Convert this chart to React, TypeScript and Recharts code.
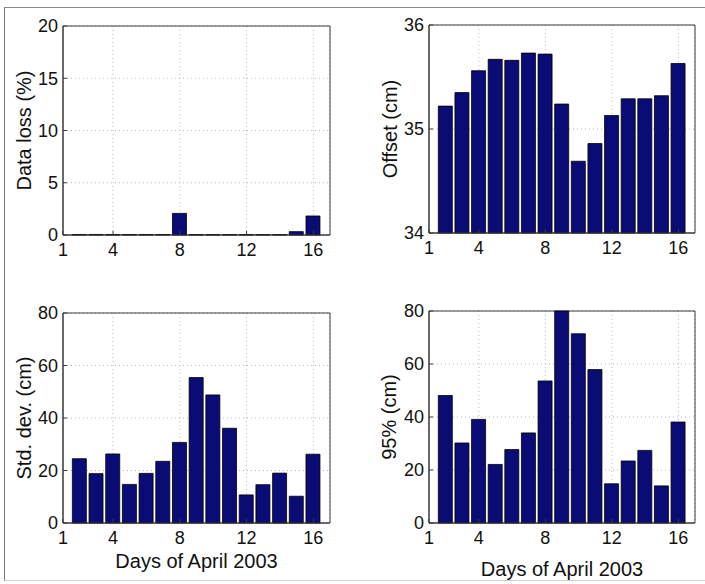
import { BarChart, Bar, XAxis, YAxis, CartesianGrid, ReferenceArea } from 'recharts';

const FONT = "'Liberation Sans', Arial, Helvetica, sans-serif";
const BAR_FILL = '#0b0b76';
const AXIS = '#3a3a3a';

// April 2003, one bar per day
const days = [2, 3, 4, 5, 6, 7, 8, 9, 10, 11, 12, 13, 14, 15, 16];
const dayTicks = [1, 4, 8, 12, 16];

const dataLoss = [0.05, 0.05, 0.05, 0.05, 0.05, 0.05, 2.07, 0.04, 0.04, 0.04, 0.04, 0.04, 0.04, 0.32, 1.82];
const offsetCm = [35.22, 35.35, 35.56, 35.67, 35.66, 35.73, 35.72, 35.24, 34.69, 34.86, 35.13, 35.29, 35.29, 35.32, 35.63];
const stdDevCm = [24.5, 18.8, 26.3, 14.7, 18.9, 23.5, 30.7, 55.4, 48.8, 36.1, 10.7, 14.6, 19.0, 10.2, 26.2];
const p95Cm = [48.1, 30.2, 39.1, 22.1, 27.7, 34.0, 53.6, 80.0, 71.4, 57.9, 14.8, 23.4, 27.4, 14.0, 38.1];

const lossTicks = [0, 5, 10, 15, 20];
const offsetTicks = [34, 35, 36];
const cmTicks = [0, 20, 40, 60, 80];

const rows = days.map((day, i) => ({
  day,
  loss: dataLoss[i],
  offset: offsetCm[i],
  std: stdDevCm[i],
  p95: p95Cm[i],
}));

type PanelProps = {
  dataKey: string;
  yTicks: number[];
  yLabel: string;
  xLabel?: string;
  left: number;
  top: number;
  width: number;
  height: number;
  margin: { top: number; right: number; bottom: number; left: number };
  yAxisWidth: number;
  yLabelX: number;
  xLabelY?: number;
};

const tickStyle = { fill: '#111', fontSize: 18, fontFamily: FONT };

const Panel = (p: PanelProps) => {
  const yMin = p.yTicks[0];
  const yMax = p.yTicks[p.yTicks.length - 1];
  return (
    <div style={{ position: 'absolute', left: p.left, top: p.top }}>
      <BarChart width={p.width} height={p.height} data={rows} margin={p.margin}>
        <CartesianGrid stroke="#b8b8b8" strokeDasharray="1 3" />
        {/* negative tick size puts the tick marks inside the box */}
        <XAxis
          dataKey="day"
          type="number"
          domain={[1, 17]}
          ticks={dayTicks}
          interval={0}
          tick={tickStyle}
          tickLine={{ stroke: AXIS }}
          tickSize={-4}
          tickMargin={12}
          axisLine={{ stroke: AXIS }}
          height={40}
          label={
            p.xLabel
              ? { value: p.xLabel, position: 'insideTop', offset: p.xLabelY, fill: '#111', fontSize: 20, fontFamily: FONT }
              : undefined
          }
        />
        <YAxis
          type="number"
          domain={[yMin, yMax]}
          ticks={p.yTicks}
          interval={0}
          tick={tickStyle}
          tickLine={{ stroke: AXIS }}
          tickSize={-4}
          tickMargin={9}
          axisLine={{ stroke: AXIS }}
          width={p.yAxisWidth}
          label={{
            value: p.yLabel,
            angle: -90,
            position: 'insideLeft',
            offset: p.yLabelX,
            fill: '#111',
            fontSize: 20,
            fontFamily: FONT,
            style: { textAnchor: 'middle' },
          }}
        />
        <Bar dataKey={p.dataKey} fill={BAR_FILL} stroke="#000" strokeWidth={0.8} barSize={14} isAnimationActive={false} />
        {/* closed box around the axes */}
        <ReferenceArea x1={1} x2={17} y1={yMin} y2={yMax} fill="none" stroke={AXIS} strokeOpacity={1} />
      </BarChart>
    </div>
  );
};

const App = () => (
  <div
    style={{
      position: 'absolute',
      left: 0,
      top: 0,
      width: 705,
      height: 584,
      overflow: 'hidden',
      background: '#fff',
      fontFamily: FONT,
    }}
  >
    {/* figure frame */}
    <div
      style={{
        position: 'absolute',
        left: 4,
        top: 7,
        width: 720,
        height: 572,
        borderLeft: '1.5px solid #7a7a7a',
        borderTop: '1.5px solid #8a8a8a',
        borderBottom: '1px solid #d0d0d0',
      }}
    />
    <Panel
      dataKey="loss"
      yTicks={lossTicks}
      yLabel="Data loss (%)"
      left={0}
      top={0}
      width={352}
      height={290}
      margin={{ top: 26, right: 22, bottom: 15, left: 0 }}
      yAxisWidth={63}
      yLabelX={24}
    />
    <Panel
      dataKey="offset"
      yTicks={offsetTicks}
      yLabel="Offset (cm)"
      left={352}
      top={0}
      width={353}
      height={290}
      margin={{ top: 25, right: 10, bottom: 17, left: 0 }}
      yAxisWidth={77}
      yLabelX={38}
    />
    <Panel
      dataKey="std"
      yTicks={cmTicks}
      yLabel="Std. dev. (cm)"
      xLabel="Days of April 2003"
      left={0}
      top={290}
      width={352}
      height={294}
      margin={{ top: 23, right: 22, bottom: 21, left: 0 }}
      yAxisWidth={63}
      yLabelX={24}
      xLabelY={31}
    />
    <Panel
      dataKey="p95"
      yTicks={cmTicks}
      yLabel="95% (cm)"
      xLabel="Days of April 2003"
      left={352}
      top={290}
      width={353}
      height={294}
      margin={{ top: 21, right: 10, bottom: 21, left: 0 }}
      yAxisWidth={77}
      yLabelX={37}
      xLabelY={39}
    />
  </div>
);

export default App;
